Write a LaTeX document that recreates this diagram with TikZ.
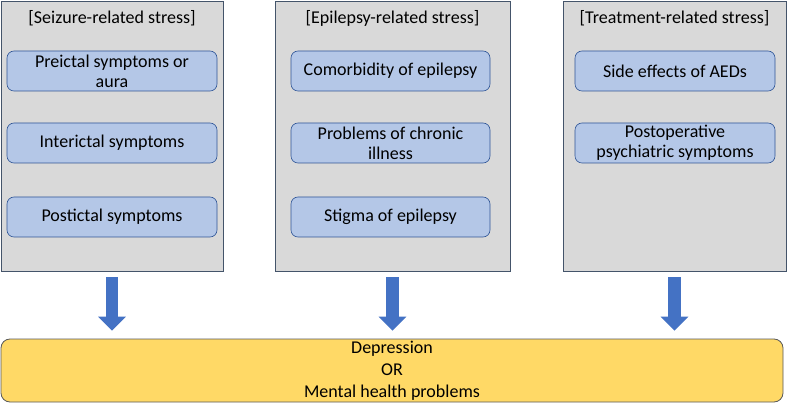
\documentclass[tikz,border=0pt]{standalone}
\usepackage{fontspec}
\setmainfont{Carlito}
\usetikzlibrary{arrows.meta}

\definecolor{panelgray}{RGB}{217,217,217}
\definecolor{panelline}{RGB}{68,84,106}
\definecolor{itemblue}{RGB}{180,199,231}
\definecolor{itemline}{RGB}{47,85,151}
\definecolor{arrowblue}{RGB}{68,114,196}
\definecolor{resultyellow}{RGB}{255,217,102}
\definecolor{resultline}{RGB}{89,89,89}

\tikzset{
	panel/.style={draw=panelline, fill=panelgray, line width=0.8pt, minimum height=270pt, inner sep=0pt},
	item/.style={draw=itemline, fill=itemblue, rounded corners=7pt, line width=0.6pt, minimum height=40pt, align=center, font=\fontsize{18}{20}\selectfont, inner sep=0pt},
	title/.style={font=\fontsize{18}{20}\selectfont},
	bigarrow/.style={draw=arrowblue, line width=12.5pt, -{Triangle[width=27pt,length=14pt]}},
}

\begin{document}
\begin{tikzpicture}[x=1pt, y=-1pt]

	\useasboundingbox (0,0) rectangle (787,403);

	% three kinds of stress
	\node[panel, minimum width=222pt] (seizure) at (112,136) {};
	\node[panel, minimum width=235pt] (epilepsy) at (392.5,136) {};
	\node[panel, minimum width=223pt] (treatment) at (674.5,136) {};

	\node[title] (seizuretitle) at (112,18) {[Seizure-related stress]};
	\node[title] (epilepsytitle) at (392.5,18) {[Epilepsy-related stress]};
	\node[title] (treatmenttitle) at (674.5,18) {[Treatment-related stress]};

	\node[item, minimum width=210pt] (preictal) at (112,71) {Preictal symptoms or\\aura};
	\node[item, minimum width=210pt] (interictal) at (112,143) {Interictal symptoms};
	\node[item, minimum width=210pt] (postictal) at (112,217) {Postictal symptoms};

	\node[item, minimum width=199pt] (comorbidity) at (390.5,71) {Comorbidity of epilepsy};
	\node[item, minimum width=199pt] (chronic) at (390.5,143) {Problems of chronic\\illness};
	\node[item, minimum width=199pt] (stigma) at (390.5,217) {Stigma of epilepsy};

	\node[item, minimum width=200pt] (aeds) at (675,71) {Side effects of AEDs};
	\node[item, minimum width=200pt] (postop) at (675,143) {Postoperative\\psychiatric symptoms};

	% outcome
	\node[draw=resultline, fill=resultyellow, rounded corners=9pt, line width=0.8pt, minimum width=782pt, minimum height=63pt, align=center, font=\fontsize{18}{22}\selectfont, inner sep=0pt] (depression) at (392,370.5) {Depression\\OR\\Mental health problems};

	\draw[bigarrow] ([yshift=-6pt]seizure.south) -- ([yshift=8pt]seizure.south |- depression.north);
	\draw[bigarrow] ([yshift=-6pt]epilepsy.south) -- ([yshift=8pt]epilepsy.south |- depression.north);
	\draw[bigarrow] ([yshift=-6pt]treatment.south) -- ([yshift=8pt]treatment.south |- depression.north);

\end{tikzpicture}
\end{document}
